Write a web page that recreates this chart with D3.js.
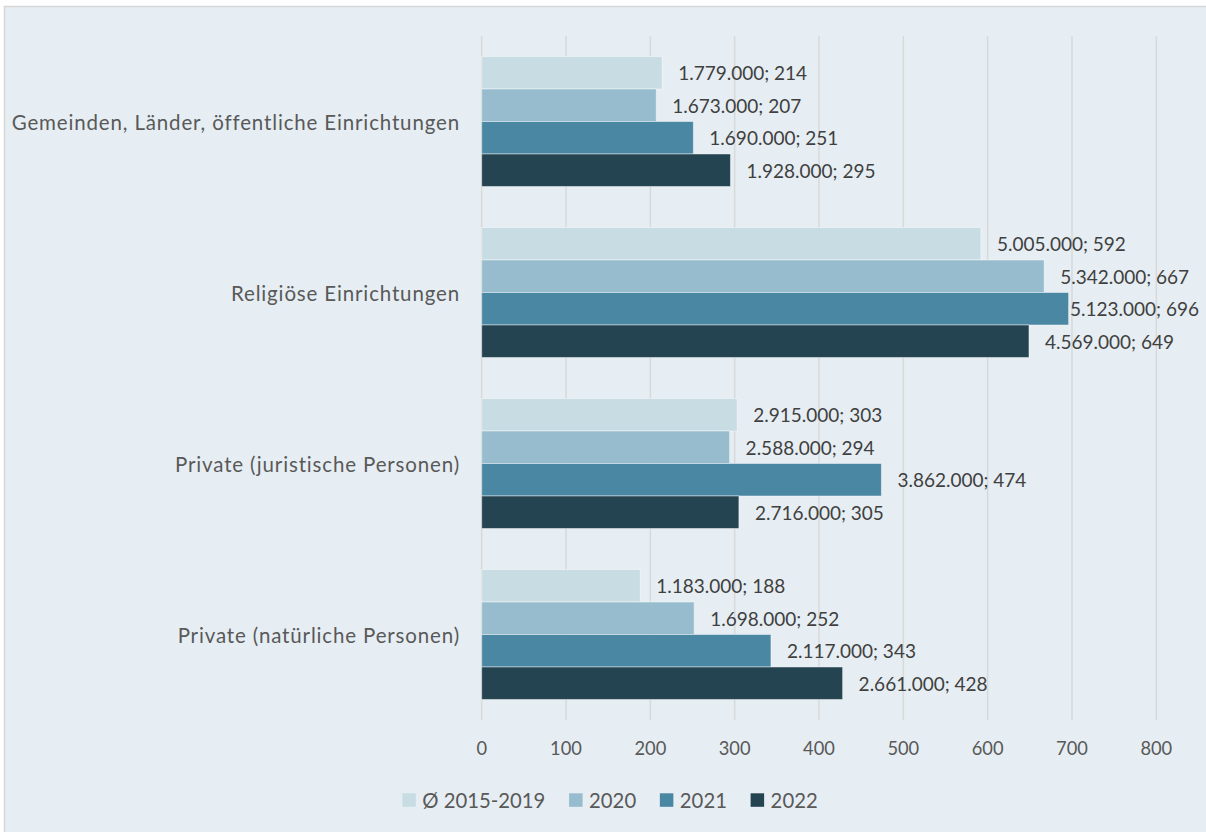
<!DOCTYPE html>
<html>
<head>
<meta charset="utf-8">
<script src="https://cdn.jsdelivr.net/npm/d3@7"></script>
<style>
  html, body { margin: 0; padding: 0; background: #ffffff; }
  svg { display: block; font-family: Lato, "Open Sans", sans-serif; }
</style>
</head>
<body>
<svg id="chart" width="1206" height="832"></svg>
<script>
// Categories (top to bottom)
const categories = [
  "Gemeinden, Länder, öffentliche Einrichtungen",
  "Religiöse Einrichtungen",
  "Private (juristische Personen)",
  "Private (natürliche Personen)"
];
// Series names
const seriesNames = ["Ø 2015-2019", "2020", "2021", "2022"];
// Bar values per series (one per category)
const avg2015_2019 = [214, 592, 303, 188];
const y2020 = [207, 667, 294, 252];
const y2021 = [251, 696, 474, 343];
const y2022 = [295, 649, 305, 428];
// Amounts shown in front of each value in the data labels
const amount2015_2019 = ["1.779.000", "5.005.000", "2.915.000", "1.183.000"];
const amount2020 = ["1.673.000", "5.342.000", "2.588.000", "1.698.000"];
const amount2021 = ["1.690.000", "5.123.000", "3.862.000", "2.117.000"];
const amount2022 = ["1.928.000", "4.569.000", "2.716.000", "2.661.000"];
// Axis ticks
const xTicks = [0, 100, 200, 300, 400, 500, 600, 700, 800];

const seriesValues = [avg2015_2019, y2020, y2021, y2022];
const seriesAmounts = [amount2015_2019, amount2020, amount2021, amount2022];
const colors = ["#c8dce4", "#97bccd", "#4a87a3", "#254451"];

const svg = d3.select("#chart");

// chart area frame
svg.append("rect")
  .attr("x", 4.5).attr("y", 6.5)
  .attr("width", 1220).attr("height", 840)
  .attr("fill", "#e6eef3")
  .attr("stroke", "#d6d6d6").attr("stroke-width", 1.5);

const x = d3.scaleLinear().domain([0, 800]).range([481.7, 1156.3]);
const y = d3.scaleBand().domain(categories).range([36, 720]).paddingInner(0.24).paddingOuter(0.12);
const ySub = d3.scaleBand().domain(seriesNames).range([0, y.bandwidth()]);

// vertical gridlines
svg.append("g")
  .selectAll("line")
  .data(xTicks)
  .join("line")
  .attr("x1", d => x(d)).attr("x2", d => x(d))
  .attr("y1", 36).attr("y2", 720)
  .attr("stroke", "#d9d9d9").attr("stroke-width", 1.5);

// tick labels
svg.append("g")
  .selectAll("text")
  .data(xTicks)
  .join("text")
  .attr("x", d => x(d)).attr("y", 748)
  .attr("text-anchor", "middle")
  .attr("dominant-baseline", "central")
  .attr("font-size", 18.3)
  .attr("fill", "#595959")
  .text(d => d);

// category labels
svg.append("g")
  .selectAll("text")
  .data(categories)
  .join("text")
  .attr("x", 460)
  .attr("y", d => y(d) + y.bandwidth() / 2)
  .attr("text-anchor", "end")
  .attr("dominant-baseline", "central")
  .attr("font-size", 20.5)
  .attr("letter-spacing", 0.85)
  .attr("fill", "#595959")
  .text(d => d);

// bars
const rows = [];
categories.forEach((c, ci) => {
  seriesNames.forEach((s, si) => {
    rows.push({ cat: c, series: s, si, value: seriesValues[si][ci], amount: seriesAmounts[si][ci] });
  });
});

svg.append("g")
  .selectAll("rect")
  .data(rows)
  .join("rect")
  .attr("x", x(0))
  .attr("y", d => y(d.cat) + ySub(d.series))
  .attr("width", d => x(d.value) - x(0))
  .attr("height", ySub.bandwidth())
  .attr("fill", d => colors[d.si])
  .attr("stroke", "rgba(255,255,255,0.45)")
  .attr("stroke-width", 1);

// data labels, kept inside the chart's right edge
const labelRight = 1199;
svg.append("g")
  .selectAll("text")
  .data(rows)
  .join("text")
  .attr("y", d => y(d.cat) + ySub(d.series) + ySub.bandwidth() / 2)
  .attr("dominant-baseline", "central")
  .attr("font-size", 19)
  .attr("fill", "#404040")
  .text(d => `${d.amount}; ${d.value}`)
  .attr("x", function (d) {
    const w = this.getComputedTextLength();
    return Math.min(x(d.value) + 16, labelRight - w);
  });

// legend
const legend = svg.append("g");
const items = legend.selectAll("g").data(seriesNames).join("g");
items.append("rect")
  .attr("width", 13.5).attr("height", 13.5)
  .attr("y", 793.3)
  .attr("fill", (d, i) => colors[i]);
items.append("text")
  .attr("x", 20).attr("y", 800)
  .attr("dominant-baseline", "central")
  .attr("font-size", 20.3)
  .attr("fill", "#595959")
  .text(d => d);
let widths = [];
items.each(function () { widths.push(this.querySelector("text").getComputedTextLength() + 20); });
const gap = 23.7;
const total = d3.sum(widths) + gap * (widths.length - 1);
let cx = 610 - total / 2;
items.each(function (d, i) {
  d3.select(this).attr("transform", `translate(${cx},0)`);
  cx += widths[i] + gap;
});
</script>
</body>
</html>
